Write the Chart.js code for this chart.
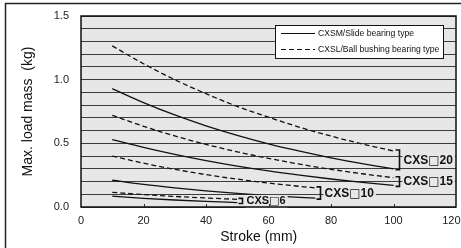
<!DOCTYPE html>
<html>
<head>
<meta charset="utf-8">
<script src="https://cdn.jsdelivr.net/npm/chart.js@4"></script>
<style>
html, body { margin: 0; padding: 0; background: #fff; }
</style>
</head>
<body>
<canvas id="loadChart" width="461" height="248"></canvas>
<script>
// stroke (mm) for each size group
const strokes = [10, 20, 30, 40, 50, 60, 70, 80, 90, 100];
const strokes10 = [10, 20, 30, 40, 50, 60, 70, 75];
const strokes6 = [10, 20, 30, 40, 50];

// max load mass (kg)
const cxs20Ball = [1.265, 1.125, 1.0, 0.89, 0.79, 0.705, 0.626, 0.557, 0.495, 0.44];
const cxs20Slide = [0.93, 0.82, 0.723, 0.638, 0.563, 0.496, 0.438, 0.386, 0.34, 0.30];
const cxs15Ball = [0.72, 0.634, 0.558, 0.492, 0.433, 0.382, 0.336, 0.296, 0.261, 0.23];
const cxs15Slide = [0.53, 0.468, 0.413, 0.364, 0.321, 0.283, 0.25, 0.22, 0.194, 0.17];
const cxs10Ball = [0.40, 0.344, 0.296, 0.254, 0.219, 0.188, 0.162, 0.15];
const cxs10Slide = [0.21, 0.177, 0.15, 0.127, 0.107, 0.09, 0.076, 0.07];
const cxs6Ball = [0.115, 0.098, 0.083, 0.071, 0.06];
const cxs6Slide = [0.085, 0.068, 0.055, 0.044, 0.035];

const seriesNames = ['CXSM/Slide bearing type', 'CXSL/Ball bushing bearing type'];
const sizeNames = ['20', '15', '10', '6'];
const yLabelValues = [0, 0.5, 1.0, 1.5];

const fontName = "'Liberation Sans', Arial, Helvetica, sans-serif";
const plotBg = '#e7e7e7';

function pts(xs, ys) {
    return xs.map((x, i) => ({x: x, y: ys[i]}));
}

function line(label, xs, ys, dashed) {
    return {
        label: label,
        data: pts(xs, ys),
        borderColor: '#111',
        borderWidth: 1.3,
        borderDash: dashed ? [5, 3] : [],
        pointRadius: 0,
        fill: false,
        cubicInterpolationMode: 'monotone'
    };
}

const datasets = [
    line(seriesNames[1], strokes, cxs20Ball, true),
    line(seriesNames[0], strokes, cxs20Slide, false),
    line(seriesNames[1], strokes, cxs15Ball, true),
    line(seriesNames[0], strokes, cxs15Slide, false),
    line(seriesNames[1], strokes10, cxs10Ball, true),
    line(seriesNames[0], strokes10, cxs10Slide, false),
    line(seriesNames[1], strokes6, cxs6Ball, true),
    line(seriesNames[0], strokes6, cxs6Slide, false)
];

// "CXS□20" written in three pieces so the square gets a full size glyph
function sizeLabel(c, x, y, num, fs) {
    c.textBaseline = 'middle';
    c.textAlign = 'left';
    const bold = 'bold ' + fs + 'px ' + fontName;
    const sq = fs + 'px "DejaVu Sans", sans-serif';
    c.font = bold;
    const w1 = c.measureText('CXS').width;
    const w3 = c.measureText(num).width;
    c.font = sq;
    const w2 = c.measureText('\u25A1').width;
    c.fillStyle = plotBg;
    c.fillRect(x - 1, y - fs / 2 - 1, w1 + w2 + w3 + 3, fs + 2);
    c.fillStyle = '#111';
    c.font = bold;
    c.fillText('CXS', x, y);
    c.font = sq;
    c.fillText('\u25A1', x + w1, y);
    c.font = bold;
    c.fillText(num, x + w1 + w2, y);
}

const decor = {
    id: 'decor',
    beforeDraw(chart) {
        const c = chart.ctx, a = chart.chartArea;
        c.save();
        c.strokeStyle = '#222';
        c.lineWidth = 1.5;
        c.beginPath();
        c.moveTo(5.5, 248);
        c.lineTo(5.5, 3.5);
        c.lineTo(461, 3.5);
        c.stroke();
        c.fillStyle = plotBg;
        c.fillRect(a.left, a.top, a.right - a.left, a.bottom - a.top);
        c.restore();
    },
    afterDatasetsDraw(chart) {
        const c = chart.ctx, a = chart.chartArea;
        const xs = chart.scales.x, ys = chart.scales.y;
        c.save();

        // brackets + size names
        for (let g = 0; g < 4; g++) {
            const ball = chart.data.datasets[g * 2].data;
            const slide = chart.data.datasets[g * 2 + 1].data;
            const last = ball[ball.length - 1];
            const bx = Math.round(xs.getPixelForValue(last.x)) + 5.5;
            const y1 = ys.getPixelForValue(last.y) - 1;
            const y2 = ys.getPixelForValue(slide[slide.length - 1].y) + 1;
            c.strokeStyle = '#111';
            c.lineWidth = 1.6;
            c.beginPath();
            c.moveTo(bx - 4, y1);
            c.lineTo(bx, y1);
            c.lineTo(bx, y2);
            c.lineTo(bx - 4, y2);
            c.stroke();
            sizeLabel(c, bx + 4, (y1 + y2) / 2 + 0.5, sizeNames[g], g === 3 ? 11 : 12);
        }

        // small x tick marks inside the plot
        c.strokeStyle = '#333';
        c.lineWidth = 1;
        xs.ticks.forEach(t => {
            if (t.value <= 0 || t.value >= 120) return;
            const px = Math.round(xs.getPixelForValue(t.value)) + 0.5;
            c.beginPath();
            c.moveTo(px, a.bottom);
            c.lineTo(px, a.bottom - 3);
            c.stroke();
        });

        // plot border
        c.strokeStyle = '#111';
        c.lineWidth = 1.5;
        c.strokeRect(a.left, a.top, a.right - a.left, a.bottom - a.top);

        // legend box
        const lx = a.right - 181, ly = a.top + 9;
        c.fillStyle = '#fff';
        c.fillRect(lx, ly, 168, 33);
        c.strokeStyle = '#111';
        c.lineWidth = 1;
        c.strokeRect(lx + 0.5, ly + 0.5, 168, 33);
        c.font = '8.6px ' + fontName;
        c.textBaseline = 'middle';
        c.textAlign = 'left';
        [0, 1].forEach(i => {
            const yy = ly + 8.5 + i * 16;
            c.lineWidth = 1.2;
            c.setLineDash(i === 1 ? [5, 3] : []);
            c.beginPath();
            c.moveTo(lx + 6, yy);
            c.lineTo(lx + 40, yy);
            c.stroke();
            c.setLineDash([]);
            c.fillStyle = '#111';
            c.fillText(seriesNames[i], lx + 43, yy + 0.5);
        });
        c.restore();
    }
};

const config = {
    type: 'line',
    data: {datasets: datasets},
    options: {
        responsive: false,
        animation: false,
        layout: {padding: {left: 0, top: 16, right: 5, bottom: 0}},
        plugins: {
            legend: {display: false},
            tooltip: {enabled: false}
        },
        scales: {
            x: {
                type: 'linear',
                min: 0,
                max: 120,
                grid: {drawOnChartArea: false, drawTicks: false},
                border: {display: false},
                ticks: {
                    stepSize: 20,
                    padding: 7,
                    color: '#222',
                    font: {family: fontName, size: 11},
                    // last label pulled a little left so it is not cut off
                    callback: v => v === 120 ? '120   ' : String(v)
                },
                title: {display: true, text: 'Stroke (mm)     ', color: '#111',
                    font: {family: fontName, size: 14}, padding: {top: 0, bottom: 2}},
                afterFit: s => { s.height = 41; s.paddingLeft = 0; s.paddingRight = 0; }
            },
            y: {
                min: 0,
                max: 1.5,
                grid: {color: '#3c3c3c', lineWidth: 1, drawTicks: false},
                border: {display: false},
                ticks: {
                    stepSize: 0.1,
                    autoSkip: false,
                    padding: 12,
                    color: '#222',
                    font: {family: fontName, size: 11},
                    callback: v => yLabelValues.some(t => Math.abs(t - v) < 1e-6) ? v.toFixed(1) : ''
                },
                title: {display: true, text: 'Max. load mass  (kg)', color: '#111',
                    font: {family: fontName, size: 14}, padding: {top: 20, bottom: 0}},
                afterFit: s => { s.width = 81; s.paddingTop = 0; s.paddingBottom = 0; }
            }
        }
    },
    plugins: [decor]
};

let ctx = document.getElementById('loadChart').getContext('2d')
new Chart(ctx, config)
</script>
</body>
</html>
